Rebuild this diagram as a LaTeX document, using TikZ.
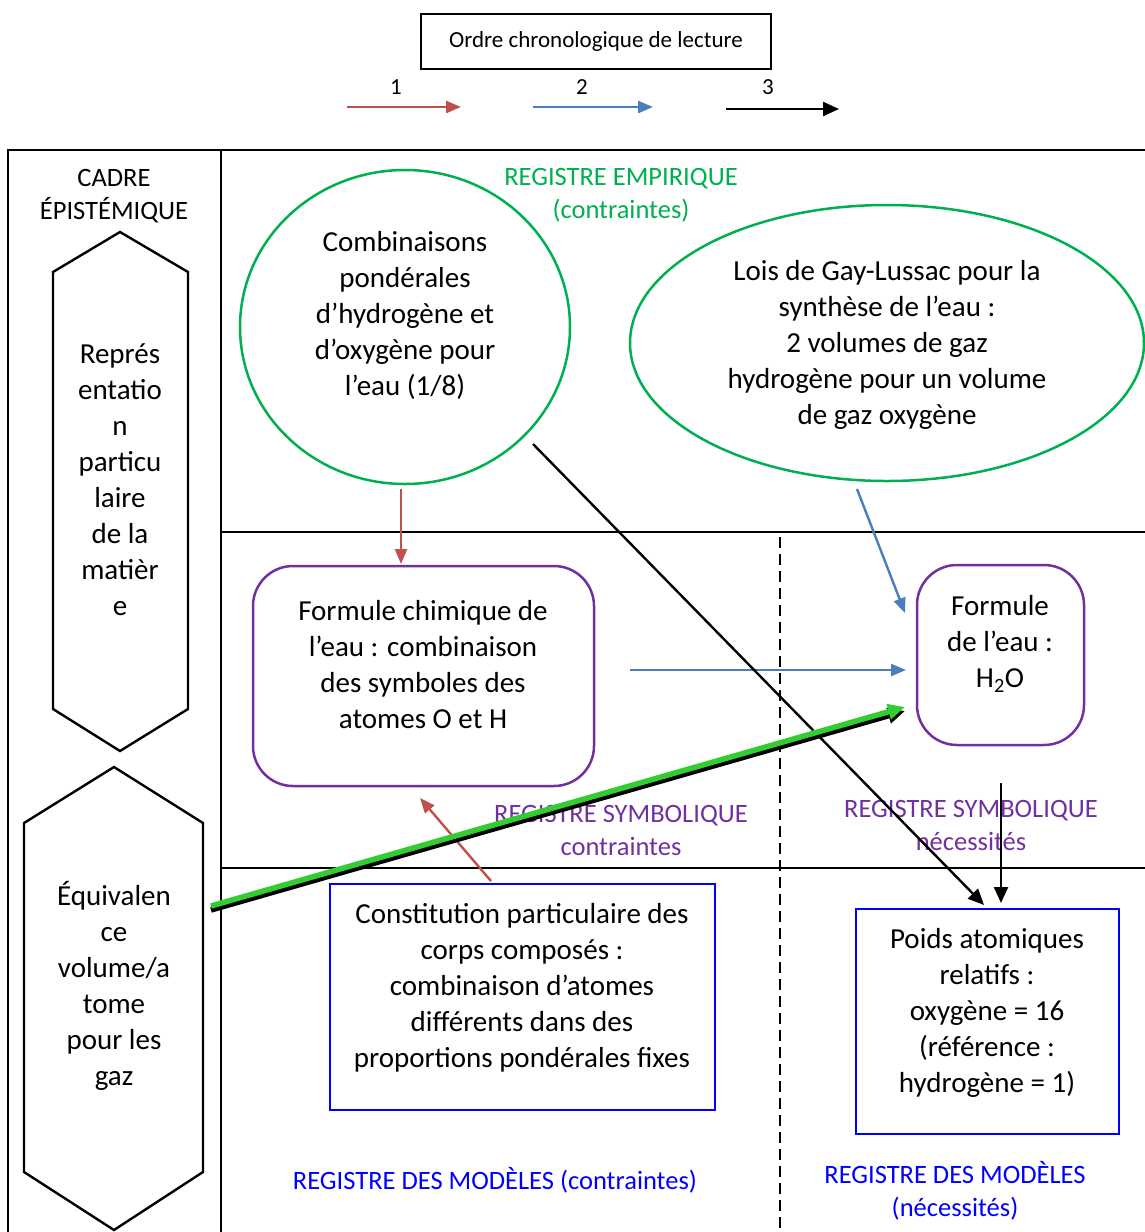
\documentclass[tikz,border=0pt]{standalone}
\usepackage{fontspec}
\setmainfont{Carlito}
\usetikzlibrary{arrows.meta,shapes.geometric}
\definecolor{empg}{RGB}{0,176,80}
\definecolor{symp}{RGB}{112,48,160}
\definecolor{modb}{RGB}{0,0,255}
\definecolor{arrred}{RGB}{192,80,77}
\definecolor{arrblue}{RGB}{74,126,187}
\definecolor{thickgreen}{RGB}{51,204,51}
\begin{document}
\begin{tikzpicture}[x=1pt,y=-1pt,
  every node/.style={inner sep=0pt,outer sep=0pt},
  maintxt/.style={font=\fontsize{29}{36}\selectfont,align=center},
  regtxt/.style={font=\fontsize{26.5}{33}\selectfont,align=center},
  legtxt/.style={font=\fontsize{23}{28}\selectfont},
  framel/.style={line width=2.8pt},
  hexl/.style={line width=2.4pt},
  ellg/.style={draw=empg,line width=2.5pt,ellipse},
  boxp/.style={draw=symp,line width=2.5pt,rectangle,rounded corners=40pt},
  boxb/.style={draw=modb,line width=2.5pt,rectangle},
  redarr/.style={draw=arrred,line width=2.4pt,-{Triangle[length=15pt,width=12pt]}},
  bluearr/.style={draw=arrblue,line width=2.4pt,-{Triangle[length=15pt,width=12pt]}},
  blackarr/.style={draw=black,line width=2.4pt,-{Triangle[length=16pt,width=14pt]}}
]
\useasboundingbox (0,0) rectangle (1145,1232);

% legend
\node[draw,line width=2.2pt,minimum width=350pt,minimum height=55pt,legtxt] (legbox) at (596,41.5) {Ordre chronologique de lecture};
\node[legtxt] (n1) at (396,87) {1};
\node[legtxt] (n2) at (582,87) {2};
\node[legtxt] (n3) at (768,87) {3};
\coordinate (l1a) at (347,107); \coordinate (l1b) at (461,107);
\coordinate (l2a) at (533,107); \coordinate (l2b) at (653,107);
\coordinate (l3a) at (726,109); \coordinate (l3b) at (839,109);
\draw[redarr] (l1a) -- (l1b);
\draw[bluearr] (l2a) -- (l2b);
\draw[blackarr] (l3a) -- (l3b);

% frame
\draw[framel] (1145,150) -- (8,150) -- (8,1232);
\draw[framel] (221,150) -- (221,1232);
\draw[framel] (221,532) -- (1145,532);
\draw[framel] (221,868) -- (1145,868);
\draw[framel,dash pattern=on 11pt off 6pt] (780,537) -- (780,1232);

% left column
\node[regtxt] (cadre) at (114,196) {CADRE\\ÉPISTÉMIQUE};
\draw[hexl] (120,232) -- (188,272) -- (188,709) -- (120,751) -- (53,709) -- (53,272) -- cycle;
\node[maintxt] (hex1) at (120,480) {Représ\\entatio\\n\\particu\\laire\\de la\\matièr\\e};
\draw[hexl] (114,767) -- (203,823) -- (203,1172) -- (114,1230) -- (24,1172) -- (24,823) -- cycle;
\node[maintxt] (hex2) at (114,986) {Équivalen\\ce\\volume/a\\tome\\pour les\\gaz};

% empirical register
\node[regtxt,text=empg] (regemp) at (621,195) {REGISTRE EMPIRIQUE\\(contraintes)};
\node[ellg,minimum width=330pt,minimum height=314pt] (ell1) at (405,327) {};
\node[maintxt] (ell1t) at (405,315) {Combinaisons\\pondérales\\d’hydrogène et\\d’oxygène pour\\l’eau (1/8)};
\node[ellg,minimum width=514pt,minimum height=276pt] (ell2) at (887,343) {};
\node[maintxt] (ell2t) at (887,345) {Lois de Gay-Lussac pour la\\synthèse de l’eau :\\2 volumes de gaz\\hydrogène pour un volume\\de gaz oxygène};

% symbolic register
\node[boxp,minimum width=341pt,minimum height=220pt] (box1) at (423.5,676) {};
\node[maintxt] (box1t) at (423,665) {Formule chimique de\\l’eau : combinaison\\des symboles des\\atomes O et H};
\node[boxp,minimum width=167pt,minimum height=180pt] (box2) at (1000.5,655) {};
\node[maintxt] (box2t) at (1000,644) {Formule\\de l’eau :\\H\textsubscript{2}O};
\node[regtxt,text=symp] (regsym1) at (621,830) {REGISTRE SYMBOLIQUE\\contraintes};
\node[regtxt,text=symp] (regsym2) at (971,825) {REGISTRE SYMBOLIQUE\\nécessités};

% model register
\node[boxb,minimum width=385pt,minimum height=226pt] (bbox1) at (522.5,997) {};
\node[maintxt] (bbox1t) at (522,988) {Constitution particulaire des\\corps composés :\\combinaison d’atomes\\différents dans des\\proportions pondérales fixes};
\node[boxb,minimum width=263pt,minimum height=225pt] (bbox2) at (987.5,1021.5) {};
\node[maintxt] (bbox2t) at (987,1013) {Poids atomiques\\relatifs :\\oxygène = 16\\(référence :\\hydrogène = 1)};
\node[regtxt,text=modb] (regmod1) at (495,1180) {REGISTRE DES MODÈLES (contraintes)};
\node[regtxt,text=modb] (regmod2) at (955,1191) {REGISTRE DES MODÈLES\\(nécessités)};

% connectors
\coordinate (r1a) at (401,489); \coordinate (r1b) at (401,564);
\draw[redarr] (r1a) -- (r1b);
\coordinate (b1a) at (857,489); \coordinate (b1b) at (905,613);
\draw[bluearr] (b1a) -- (b1b);
\coordinate (b2a) at (630,670); \coordinate (b2b) at (906,670);
\draw[bluearr] (b2a) -- (b2b);
\coordinate (k1a) at (533,444); \coordinate (k1b) at (984,905);
\draw[blackarr] (k1a) -- (k1b);
\coordinate (k2a) at (1001,783); \coordinate (k2b) at (1001,903);
\draw[blackarr] (k2a) -- (k2b);
\coordinate (r2a) at (491,881); \coordinate (r2b) at (420,798);
\draw[redarr] (r2a) -- (r2b);
\coordinate (g1a) at (211,906); \coordinate (g1b) at (905,707);
\draw[line width=5.5pt,black,-{Triangle[length=17pt,width=15pt]}] ([yshift=-4pt]g1a) -- ([yshift=-4pt]g1b);
\draw[line width=5.5pt,thickgreen,-{Triangle[length=17pt,width=15pt]}] (g1a) -- (g1b);
\end{tikzpicture}
\end{document}
